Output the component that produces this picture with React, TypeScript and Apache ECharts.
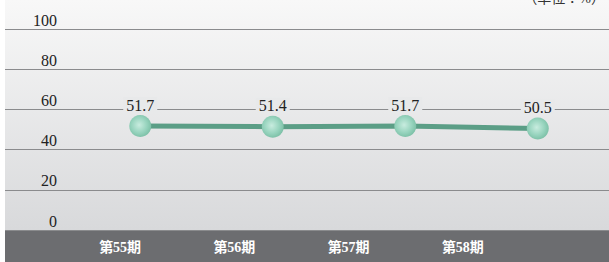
import React, { useEffect, useRef } from "react";
import * as echarts from "echarts";

const periods = ["第55期", "第56期", "第57期", "第58期"];
const ratios = [51.7, 51.4, 51.7, 50.5];
const yTicks = [0, 20, 40, 60, 80, 100];
const unitLabel = "（単位：%）";

const W = 609;
const H = 262;
const TOP = 29;
const BOTTOM = 32;

export default function App() {
  const ref = useRef<HTMLDivElement>(null);
  useEffect(() => {
    document.body.style.margin = "0";
    const chart = echarts.init(ref.current!, undefined, { renderer: "svg" });
    const serif = "Liberation Serif, DejaVu Serif, Noto Sans CJK JP, serif";
    chart.setOption({
      animation: false,
      graphic: [
        {
          type: "rect",
          z: -10,
          shape: { x: 5, y: 0, width: W - 5, height: H - BOTTOM },
          style: {
            fill: new echarts.graphic.LinearGradient(0, 0, 0, 1, [
              { offset: 0, color: "#f8f8f8" },
              { offset: 1, color: "#d8d9db" },
            ]),
          },
        },
        {
          type: "rect",
          z: -5,
          shape: { x: 5, y: H - BOTTOM, width: W - 5, height: BOTTOM },
          style: { fill: "#6c6d70" },
        },
        {
          type: "text",
          right: 4,
          top: -9,
          style: { text: unitLabel, fontSize: 14, fill: "#333", fontFamily: serif },
        },
      ],
      grid: [
        { left: 5, right: 0, top: TOP, bottom: BOTTOM },
        { left: 74, right: 5, top: TOP, bottom: BOTTOM },
        { left: 63, right: 89, top: TOP, bottom: BOTTOM },
      ],
      xAxis: [
        { type: "category", gridIndex: 0, data: periods, show: false },
        { type: "category", gridIndex: 1, data: periods, show: false },
        {
          type: "category",
          gridIndex: 2,
          data: periods,
          axisLine: { show: false },
          axisTick: { show: false },
          axisLabel: {
            color: "#ffffff",
            fontWeight: "bold",
            fontSize: 14,
            fontFamily: serif,
            margin: 10,
          },
        },
      ],
      yAxis: [
        {
          type: "value",
          gridIndex: 0,
          min: 0,
          max: 100,
          interval: 20,
          axisLine: { show: false },
          axisTick: { show: false },
          splitLine: { lineStyle: { color: "#8a8b8d", width: 1 } },
          axisLabel: {
            margin: -52,
            align: "right",
            verticalAlign: "bottom",
            padding: [0, 0, 1, 0],
            fontSize: 16,
            color: "#222",
            fontFamily: serif,
            formatter: (v: number) => (yTicks.includes(v) ? String(v) : ""),
          },
        },
        { type: "value", gridIndex: 1, min: 0, max: 100, interval: 20, show: false },
        { type: "value", gridIndex: 2, min: 0, max: 100, interval: 20, show: false },
      ],
      series: [
        {
          type: "line",
          xAxisIndex: 1,
          yAxisIndex: 1,
          data: ratios,
          symbol: "circle",
          symbolSize: 22,
          lineStyle: { color: "#5b9e86", width: 5 },
          itemStyle: {
            color: new echarts.graphic.RadialGradient(0.45, 0.45, 0.6, [
              { offset: 0, color: "#c8ecdf" },
              { offset: 0.6, color: "#96d3bd" },
              { offset: 1, color: "#78bda3" },
            ]),
            borderWidth: 0,
          },
          label: {
            show: true,
            position: "top",
            distance: 2,
            fontSize: 16,
            color: "#222",
            fontFamily: serif,
            backgroundColor: "#e8e9ea",
            padding: [0, 3, 0, 3],
            formatter: (p: any) => p.value.toFixed(1),
          },
        },
      ],
    });
    return () => chart.dispose();
  }, []);
  return <div ref={ref} style={{ width: W, height: H }} />;
}
